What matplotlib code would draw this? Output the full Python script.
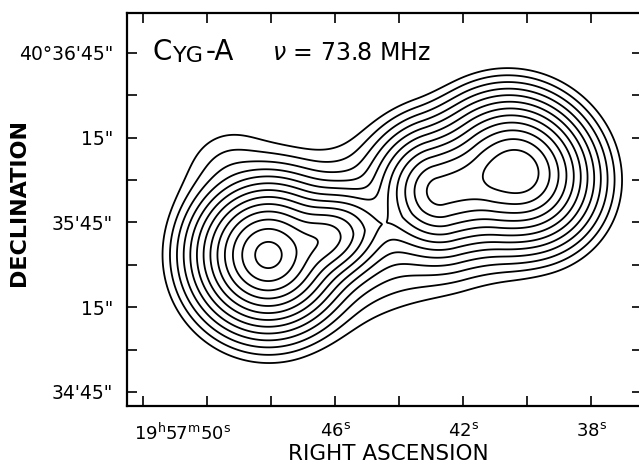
import numpy as np
import matplotlib
matplotlib.use("Agg")
import matplotlib.pyplot as plt
from matplotlib.transforms import ScaledTranslation

# ---- data: brightness model components (RA in s of time, Dec in arcsec past 40d34'00") ----
# east lobe, east lobe tail, east lobe rim, west lobe, west lobe ridge, bridge
comp_ra = [48.094, 46.469, 49.281, 40.281, 42.016, 44.153]
comp_dec = [93.47, 98.77, 123.54, 123.18, 118.23, 105.81]
comp_peak = [12.35, 9.6, 1.0, 11.75, 10.4, 5.0]          # peak brightness, in contour steps
comp_core = [14.15, 10.61, 8.84, 15.92, 12.38, 0.2]      # arcsec, flat core radius
comp_step = [2.0, 1.52, 4.95, 1.80, 2.09, 5.84]          # arcsec per contour step
comp_elong = [1.0, 1.5, 1.0, 1.10, 1.0, 1.0]             # stretch along position angle
comp_halflen = [0.0, 0.0, 0.0, 0.0, 8.24, 46.2]          # arcsec, ridge half-length
comp_pa = [0.0, 19.0, 0.0, 140.0, 15.0, 19.0]            # deg, CCW from west (+x on plot)
contour_levels = [1, 2, 4, 8, 16, 32, 64, 128, 256, 512, 1024, 2048, 4096]
LEVEL_RATIO = 2.0

ra_ticks_major = [50, 46, 42, 38]
ra_tick_labels = [r"19$^{\rm h}$57$^{\rm m}$50$^{\rm s}$", r"46$^{\rm s}$", r"42$^{\rm s}$", r"38$^{\rm s}$"]
ra_ticks_minor = [52, 48, 44, 40]
dec_ticks_major = [45, 75, 105, 135, 165]
dec_tick_labels = ["34'45\"", "15\"", "35'45\"", "15\"", "40°36'45\""]
dec_ticks_minor = [60, 90, 120, 150]

COSD = 15.0 * np.cos(np.deg2rad(40.6))

fig = plt.figure(figsize=(6.39, 4.67), dpi=100)
ax = fig.add_axes([127 / 639, (467 - 405.7) / 467, (642 - 127) / 639, (405.7 - 13) / 467])
ax.set_xlim(52.5, 36.41)
ax.set_ylim(40.15, 179.1)

ra = np.linspace(36.0, 53.0, 560)
dec = np.linspace(38.0, 182.0, 520)
RA, DEC = np.meshgrid(ra, dec)
field = np.zeros_like(RA)
for r0, d0, pk, cr, st, el, hl, pa in zip(comp_ra, comp_dec, comp_peak, comp_core, comp_step,
                                          comp_elong, comp_halflen, comp_pa):
    du = (r0 - RA) * COSD
    dv = DEC - d0
    t = np.deg2rad(pa)
    u = du * np.cos(t) + dv * np.sin(t)
    u = np.maximum(np.abs(u) - hl, 0.0) / el
    v = -du * np.sin(t) + dv * np.cos(t)
    rho = np.sqrt(u ** 2 + v ** 2 + cr ** 2) - cr
    field += LEVEL_RATIO ** (pk - rho / st)

ax.contour(RA, DEC, field, levels=contour_levels, colors="black", linewidths=1.3)

ax.set_xticks(ra_ticks_major)
ax.set_xticklabels(ra_tick_labels)
ax.set_xticks(ra_ticks_minor, minor=True)
ax.set_yticks(dec_ticks_major)
ax.set_yticklabels(dec_tick_labels)
ax.set_yticks(dec_ticks_minor, minor=True)
for which in ("major", "minor"):
    ax.tick_params(axis="both", which=which, direction="in", length=7, width=1.2,
                   top=True, right=True, labelsize=13, color="black")
ax.tick_params(axis="x", which="major", pad=12)
ax.tick_params(axis="y", which="major", pad=10, labelsize=13.5)
first = ax.get_xticklabels()[0]
first.set_horizontalalignment("right")
first.set_transform(first.get_transform() + ScaledTranslation(24 / 100, 0, fig.dpi_scale_trans))
for s in ax.spines.values():
    s.set_linewidth(1.6)

fig.text(388 / 639, 1 - 454 / 467, "RIGHT ASCENSION", ha="center", va="center", fontsize=15.5)
fig.text(19 / 639, 1 - 203 / 467, "DECLINATION", ha="center", va="center", rotation=90,
         fontsize=16, fontweight="bold")

tc = fig.text(152 / 639, 1 - 60 / 467, "C", fontsize=20, ha="left", va="baseline")
tyg = ax.annotate("YG", xy=(1.0, 0.0), xycoords=tc, fontsize=16, ha="left", va="bottom",
                  xytext=(1, 0), textcoords="offset points")
tda = ax.annotate("-A", xy=(1.0, 0.0), xycoords=tyg, fontsize=20, ha="left", va="bottom",
                  xytext=(1, 0), textcoords="offset points")
fig.text(272 / 639, 1 - 60 / 467, r"$\nu$ = 73.8 MHz", fontsize=17, ha="left", va="baseline")

fig.savefig("out.png", dpi=100)
